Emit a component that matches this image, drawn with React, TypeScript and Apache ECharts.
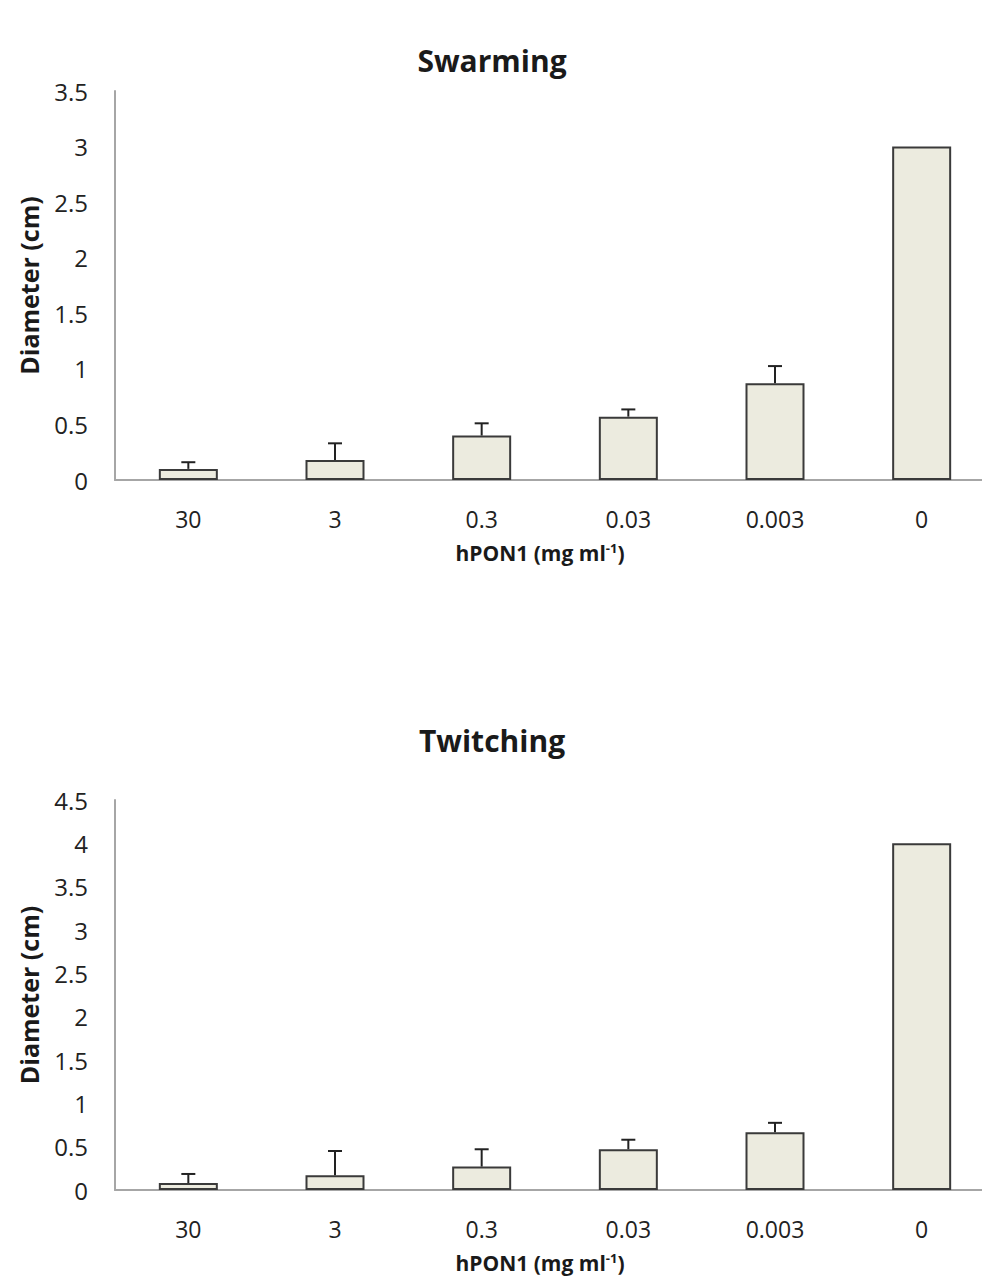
import React, { useEffect, useRef } from "react";
import * as echarts from "echarts";

const categories = ["30", "3", "0.3", "0.03", "0.003", "0"];
const swarmingValues = [0.1, 0.18, 0.4, 0.57, 0.87, 3.0];
const swarmingErrors = [0.06, 0.15, 0.11, 0.065, 0.155, 0];
const twitchingValues = [0.08, 0.17, 0.27, 0.47, 0.665, 4.0];
const twitchingErrors = [0.105, 0.28, 0.2, 0.11, 0.11, 0];
const swarmingTicks = { min: 0, max: 3.5, interval: 0.5 };
const twitchingTicks = { min: 0, max: 4.5, interval: 0.5 };

const FONT = "Open Sans";
const BAR_FILL = "#ecebdf";
const BAR_EDGE = "#3a3a3a";
const AXIS_GRAY = "#a6a6a6";

function errorSeries(values: number[], errors: number[], idx: number) {
  return {
    type: "custom",
    xAxisIndex: idx,
    yAxisIndex: idx,
    silent: true,
    z: 5,
    data: values.map((v, i) => [i, v, v + errors[i]]),
    renderItem: (params: any, api: any) => {
      const x = api.value(0);
      const lo = api.value(1);
      const hi = api.value(2);
      if (hi <= lo) return { type: "group", children: [] };
      const p1 = api.coord([x, lo]);
      const p2 = api.coord([x, hi]);
      const half = 7;
      const style = { stroke: "#222", lineWidth: 2 };
      return {
        type: "group",
        children: [
          { type: "line", shape: { x1: p1[0], y1: p1[1], x2: p2[0], y2: p2[1] }, style },
          { type: "line", shape: { x1: p2[0] - half, y1: p2[1], x2: p2[0] + half, y2: p2[1] }, style },
        ],
      };
    },
  };
}

export default function App() {
  const ref = useRef<HTMLDivElement>(null);
  useEffect(() => {
    document.documentElement.style.overflow = "hidden";
    document.body.style.overflow = "hidden";
    if (!ref.current) return;
    const chart = echarts.init(ref.current, null, { renderer: "svg" });
    const grids = [
      { left: 115, top: 91, width: 880, height: 389 },
      { left: 115, top: 800, width: 880, height: 390 },
    ];
    const xName = {
      name: "{a|hPON1 (mg ml}{s|-1}{a|)}",
      nameLocation: "middle",
      nameGap: 61,
      nameTextStyle: {
        padding: [0, 30, 0, 0],
        rich: {
          a: { fontFamily: FONT, fontWeight: "bold", fontSize: 21, color: "#1a1a1a" },
          s: { fontFamily: FONT, fontWeight: "bold", fontSize: 13, color: "#1a1a1a", verticalAlign: "top", padding: [0, 0, 10, 0] },
        },
      },
    };
    const xAxis = [0, 1].map((i) => ({
      type: "category",
      gridIndex: i,
      data: categories,
      axisLine: { lineStyle: { color: AXIS_GRAY, width: 2 } },
      axisTick: { show: false },
      axisLabel: { fontFamily: FONT, fontSize: 23, color: "#222", margin: 27 },
      ...xName,
    }));
    const yAxis = [swarmingTicks, twitchingTicks].map((t, i) => ({
      type: "value",
      gridIndex: i,
      min: t.min,
      max: t.max,
      interval: t.interval,
      name: "Diameter (cm)",
      nameLocation: "middle",
      nameGap: 74,
      nameTextStyle: { fontFamily: FONT, fontWeight: "bold", fontSize: 25, color: "#1a1a1a" },
      axisLine: { show: true, lineStyle: { color: AXIS_GRAY, width: 2 } },
      axisTick: { show: false },
      splitLine: { show: false },
      axisLabel: { fontFamily: FONT, fontSize: 24, color: "#222", margin: 27 },
    }));
    const barStyle = { color: BAR_FILL, borderColor: BAR_EDGE, borderWidth: 2 };
    chart.setOption({
      animation: false,
      backgroundColor: "#ffffff",
      title: [
        { text: "Swarming", left: 487, textAlign: "center", top: 40, textStyle: { fontFamily: FONT, fontWeight: "bold", fontSize: 30, color: "#1a1a1a" } },
        { text: "Twitching", left: 487, textAlign: "center", top: 720, textStyle: { fontFamily: FONT, fontWeight: "bold", fontSize: 30, color: "#1a1a1a" } },
      ],
      grid: grids,
      xAxis,
      yAxis,
      series: [
        { type: "bar", xAxisIndex: 0, yAxisIndex: 0, data: swarmingValues, barWidth: 59, itemStyle: barStyle },
        errorSeries(swarmingValues, swarmingErrors, 0),
        { type: "bar", xAxisIndex: 1, yAxisIndex: 1, data: twitchingValues, barWidth: 59, itemStyle: barStyle },
        errorSeries(twitchingValues, twitchingErrors, 1),
      ],
    });
    return () => chart.dispose();
  }, []);
  return (
    <div
      ref={ref}
      style={{ position: "absolute", left: 0, top: 0, width: 1000, height: 1288, background: "#fff" }}
    />
  );
}
